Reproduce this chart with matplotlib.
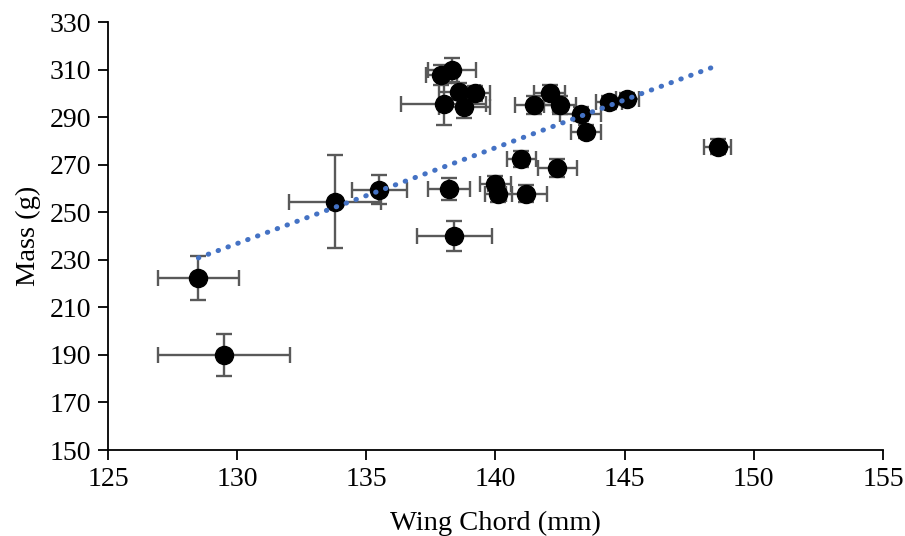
import numpy as np
import matplotlib.pyplot as plt

# wing chord (mm) and mass (g), with error bars
wing = [128.5, 129.5, 133.8, 135.5, 138.3, 137.9, 138.6, 139.2, 138.0, 138.8,
        142.1, 141.5, 142.5, 143.3, 143.5, 144.4, 145.1, 141.0, 142.4, 138.2,
        140.0, 140.1, 141.2, 138.4, 148.6]
mass = [222.5, 190.0, 254.4, 259.4, 309.8, 307.7, 300.7, 300.0, 295.5, 294.4,
        300.0, 295.1, 295.1, 291.3, 283.9, 296.2, 297.5, 272.4, 268.5, 259.9,
        262.0, 257.7, 257.8, 240.0, 277.6]
wing_err = [1.58, 2.55, 1.78, 1.07, 0.93, 0.6, 0.8, 0.6, 1.65, 1.0,
            0.6, 0.73, 0.62, 0.8, 0.57, 0.5, 0.45, 0.57, 0.74, 0.82,
            0.6, 0.52, 0.79, 1.45, 0.53]
mass_err = [9.2, 8.9, 19.5, 6.1, 4.9, 4.1, 3.6, 3.1, 9.0, 4.6,
            3.4, 3.6, 3.6, 3.1, 2.6, 2.6, 2.6, 3.3, 3.7, 4.6,
            3.2, 3.5, 3.5, 6.4, 3.0]

x_ticks = [125, 130, 135, 140, 145, 150, 155]
y_ticks = [150, 170, 190, 210, 230, 250, 270, 290, 310, 330]

plt.rcParams['font.family'] = ['Liberation Serif', 'DejaVu Serif']

fig = plt.figure(figsize=(9.05, 5.36), dpi=100)
ax = fig.add_axes([0.1193, 0.1604, 0.8564, 0.7985])

ax.errorbar(wing, mass, xerr=wing_err, yerr=mass_err, fmt='o', color='black',
            markersize=13, ecolor='#595959', elinewidth=1.7, capsize=5.5,
            capthick=1.7, zorder=3)

# linear trendline over the data range
slope, intercept = np.polyfit(wing, mass, 1)
xs = np.array([min(wing), max(wing)])
ax.plot(xs, slope * xs + intercept, linestyle=(0, (0.1, 2.0)), color='#4472C4',
        linewidth=3.6, zorder=4, dash_capstyle='round')

ax.set_xlim(125, 155)
ax.set_ylim(150, 330)
ax.set_xticks(x_ticks)
ax.set_yticks(y_ticks)
ax.tick_params(labelsize=20, direction='out', length=7, width=1.3, pad=5)

ax.spines['top'].set_visible(False)
ax.spines['right'].set_visible(False)
for s in ['left', 'bottom']:
    ax.spines[s].set_linewidth(1.3)

ax.set_xlabel('Wing Chord (mm)', fontsize=20.5, labelpad=14)
ax.set_ylabel('Mass (g)', fontsize=20.5, labelpad=6)

fig.savefig('out.png', dpi=100)
